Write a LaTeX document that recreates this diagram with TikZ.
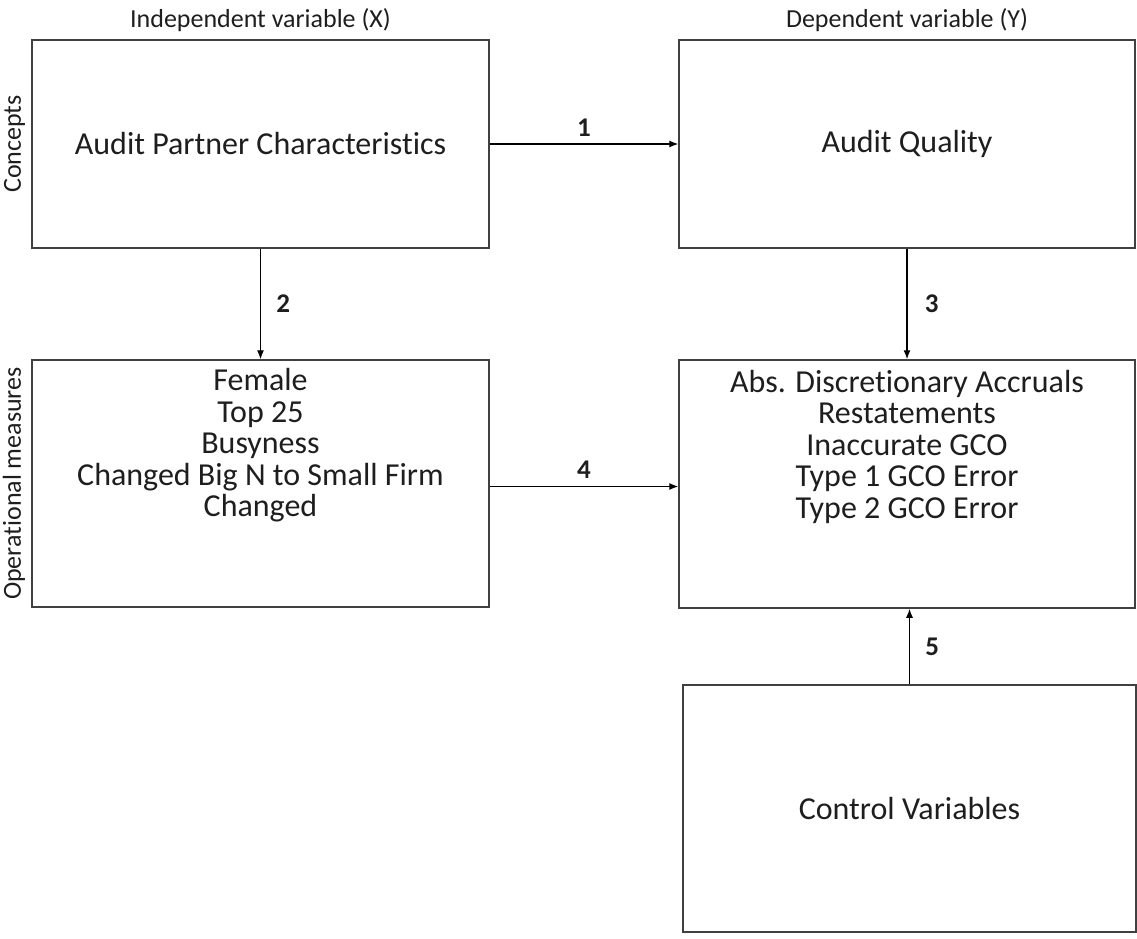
\documentclass[tikz,border=0pt]{standalone}
\usepackage{fontspec}
\setmainfont{Carlito}[RawFeature={-liga}]
\usetikzlibrary{arrows.meta,positioning}

\begin{document}
\begin{tikzpicture}[x=1pt,y=-1pt]
    \definecolor{borderColour}{HTML}{404040}
    \definecolor{textColour}{HTML}{1E1E1E}

    \tikzset{
        box/.style={draw=borderColour, line width=1.5pt, inner sep=0pt},
        boxText/.style={text=textColour, font=\fontsize{32}{31.5}\selectfont, align=center},
        headLabel/.style={text=textColour, font=\fontsize{26}{30}\selectfont},
        sideLabel/.style={text=textColour, font=\fontsize{26}{30}\selectfont, rotate=90, anchor=south, inner sep=0pt},
        numLabel/.style={text=textColour, font=\fontsize{27}{30}\selectfont\bfseries},
        link/.style={draw=black, line width=1.2pt, -{Latex[length=9pt,width=7pt]}}
    }

    % Fix the page size
    \useasboundingbox (0,0) rectangle (1137,939);

    % Concept boxes
    \node[box, minimum width=457pt, minimum height=208pt] (partner) at (260.5,144) {};
    \node[box, minimum width=456pt, minimum height=208pt] (quality) at (907,144) {};

    % Measure boxes
    \node[box, minimum width=457pt, minimum height=247pt] (measuresX) at (260.5,483.5) {};
    \node[box, minimum width=456pt, minimum height=248pt] (measuresY) at (907,484) {};

    % Control box
    \node[box, minimum width=453pt, minimum height=247pt] (controls) at (909.5,808.5) {};

    % Box texts
    \node[boxText] (partnerText) at (partner.center) {Audit Partner Characteristics};
    \node[boxText] (qualityText) at (quality.center) {Audit Quality};
    \node[boxText] (measuresXText) at ([yshift=38pt]measuresX.center)
        {Female\\Top 25\\Busyness\\Changed Big N to Small Firm\\Changed};
    \node[boxText] (measuresYText) at ([yshift=37.5pt]measuresY.center)
        {Abs. Discretionary Accruals\\Restatements\\Inaccurate GCO\\Type 1 GCO Error\\Type 2 GCO Error};
    \node[boxText] (controlsText) at (controls.center) {Control Variables};

    % Column and row labels
    \node[headLabel, above=4pt of partner.north] (indepLabel) {Independent variable (X)};
    \node[headLabel, above=4pt of quality.north] (depLabel) {Dependent variable (Y)};
    \node[sideLabel] (conceptsLabel) at ([xshift=-6pt]partner.west) {Concepts};
    \node[sideLabel] (measuresLabel) at ([xshift=-6pt]measuresX.west) {Operational measures};

    % Links
    \draw[link] (partner.east) -- (quality.west) node[numLabel, midway, above=4pt] {1};
    \draw[link] (partner.south) -- (measuresX.north) node[numLabel, midway, right=12pt] {2};
    \draw[link] (quality.south) -- (measuresY.north) node[numLabel, midway, right=14pt] {3};
    \draw[link] ([yshift=-3pt]measuresX.east) -- ([yshift=-3pt]measuresX.east -| measuresY.west)
        node[numLabel, midway, above=4pt] {4};
    \draw[link] (controls.north) -- (controls.north |- measuresY.south) node[numLabel, midway, right=12pt] {5};

\end{tikzpicture}
\end{document}
